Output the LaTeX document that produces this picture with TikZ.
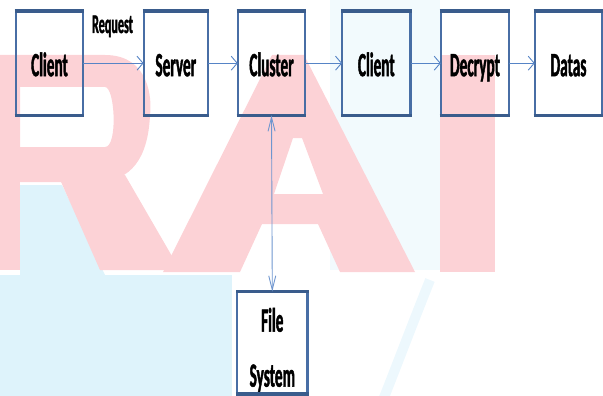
\documentclass[tikz,border=0pt]{standalone}
\usepackage{fontspec}
\newfontfamily\boxfont[FakeStretch=0.45,FakeBold=1.2]{Carlito}
\usetikzlibrary{arrows.meta}
\definecolor{capblue}{RGB}{58,92,140}
\definecolor{sideblue}{RGB}{72,110,165}
\definecolor{linkblue}{RGB}{86,132,198}
\definecolor{wmpink}{RGB}{252,210,214}
\definecolor{wmblue}{RGB}{222,243,251}
\begin{document}
\begin{tikzpicture}[x=1pt,y=-1pt,
  stage/.style={minimum width=67pt, minimum height=104pt, inner sep=0pt,
    text height=26pt, text depth=0pt,
    font=\boxfont\bfseries\fontsize{34}{40}\selectfont},
  caption/.style={inner sep=0pt, anchor=base,
    font=\boxfont\bfseries\fontsize{34}{40}\selectfont},
  sideline/.style={draw=sideblue, line width=2.2pt},
  capline/.style={draw=capblue, line width=3.6pt},
  link/.style={draw=linkblue, line width=0.9pt,
    -{Straight Barb[length=6pt,width=14pt,line width=0.9pt]}},
  vlink/.style={draw=linkblue!85, line width=0.9pt,
    {Straight Barb[length=14pt,width=7pt,line width=0.9pt]}-{Straight Barb[length=14pt,width=7pt,line width=0.9pt]}}
]
\useasboundingbox (0,0) rectangle (603,396);

% faint background lettering
\begin{scope}
  \clip (0,0) rectangle (603,396);
  \fill[wmblue] (0,275) rectangle (232,396);
  \fill[wmblue] (20,185) -- (62,185) -- (105,275) -- (20,275) -- cycle;
  \fill[wmblue!40] (330,0) rectangle (440,270);
  \draw[wmblue!55, line width=10pt] (430,280) .. controls (410,330) and (395,370) .. (383,400);
  % R
  \fill[wmpink, even odd rule] (-5,55) -- (105,55) .. controls (150,55) and (152,100) .. (150,115)
    .. controls (148,160) and (130,180) .. (100,182) -- (-5,182) -- cycle
    (20,87) -- (105,87) .. controls (115,87) and (118,147) .. (105,147) -- (20,147) -- cycle;
  \fill[wmpink] (-5,55) rectangle (20,270);
  \fill[wmpink] (58,175) -- (125,175) -- (180,270) -- (100,270) -- cycle;
  % A
  \fill[wmpink, even odd rule] (163,272) -- (272,55) -- (304,55) -- (415,272) -- (340,272)
    -- (318,224) -- (262,224) -- (240,272) -- cycle
    (274,194) -- (323,194) -- (302,138) -- (293,138) -- cycle;
  % I
  \fill[wmpink] (440,55) rectangle (495,272);
\end{scope}

% stages
\node[stage] (client)  at (49.5,63.2)  {Client};
\node[stage, minimum width=64pt] (server) at (175.8,63.2) {Server};
\node[stage] (cluster) at (271.5,63.2) {Cluster};
\node[stage, minimum width=68pt] (client2) at (376.3,63.2) {Client};
\node[stage, minimum width=68pt] (decrypt) at (475,63.2) {Decrypt};
\node[stage] (datas)   at (568.5,63.2) {Datas};
\node[stage, minimum width=70pt, minimum height=102pt] (fs) at (272.3,342.8) {};
\node[caption] (fsfile) at (272.3,331.7) {File};
\node[caption] (fssys)  at (272.3,386.7) {System};

% box borders: thin sides, heavy top and bottom
\foreach \n in {client,server,cluster,client2,decrypt,datas,fs}{
  \draw[sideline] (\n.north west) -- (\n.south west) (\n.north east) -- (\n.south east);
  \draw[capline] ([xshift=-1.1pt]\n.north west) -- ([xshift=1.1pt]\n.north east)
                 ([xshift=-1.1pt]\n.south west) -- ([xshift=1.1pt]\n.south east);
}

\node[inner sep=0pt, anchor=base, font=\boxfont\bfseries\fontsize{27}{30}\selectfont] (req) at (112.5,33) {Request};

% connectors
\draw[link] (client) -- (server);
\draw[link] (server) -- (cluster);
\draw[link] (cluster) -- (client2);
\draw[link] (client2) -- (decrypt);
\draw[link] (decrypt) -- (datas);
\draw[vlink] (cluster.south) -- (fs.north);
\end{tikzpicture}
\end{document}
